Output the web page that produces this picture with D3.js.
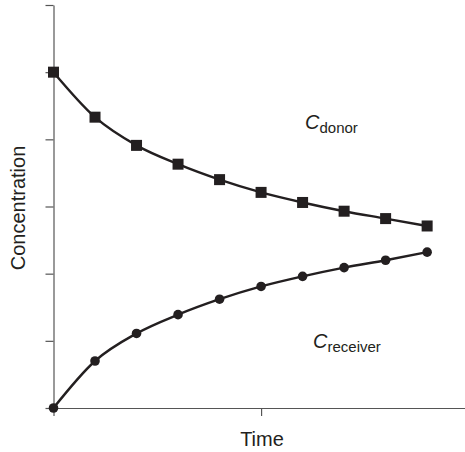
<!DOCTYPE html>
<html>
<head>
<meta charset="utf-8">
<script src="https://cdn.jsdelivr.net/npm/d3@7"></script>
<style>
  body { margin: 0; background: #fff; }
  svg { display: block; font-family: 'Liberation Sans', Arial, sans-serif; }
</style>
</head>
<body>
<svg width="465" height="452"></svg>
<script>
// Sampling times (arbitrary units)
const times = [0, 1, 2, 3, 4, 5, 6, 7, 8, 9]

// Concentrations
const donor = [5.00, 4.33, 3.91, 3.63, 3.40, 3.21, 3.06, 2.93, 2.82, 2.71]
const receiver = [0.00, 0.70, 1.11, 1.39, 1.62, 1.81, 1.96, 2.09, 2.20, 2.32]

// Tick positions (unlabelled)
const xTicks = [0, 5]
const yTicks = [0, 1, 2, 3, 4, 5, 6]

function createVisualization() {
  const ink = '#231f20'
  const axisColor = '#555'
  const left = 53.5
  const bottom = 408

  const svg = d3.select('svg')

  // Scales
  const xScale = d3.scaleLinear()
    .domain([0, 9.9])
    .range([left, 464.5])

  const yScale = d3.scaleLinear()
    .domain([0, 6])
    .range([bottom, 5])

  // Y axis, ticks only
  const yAxis = svg.append('g')
    .attr('transform', `translate(${left}, 0)`)
    .call(d3.axisLeft(yScale)
      .tickValues(yTicks)
      .tickSizeInner(8)
      .tickSizeOuter(0)
      .tickFormat(''))

  // X axis, ticks only
  const xAxis = svg.append('g')
    .attr('transform', `translate(0, ${bottom})`)
    .call(d3.axisBottom(xScale)
      .tickValues(xTicks)
      .tickSizeInner(8)
      .tickSizeOuter(0)
      .tickFormat(''))

  // Grey axis lines
  svg.selectAll('.domain, .tick line')
    .attr('stroke', axisColor)
    .attr('stroke-width', 1.2)

  // Curves
  const line = d3.line()
    .x((d, i) => xScale(times[i]))
    .y(d => yScale(d))
    .curve(d3.curveMonotoneX)

  svg.append('path')
    .datum(donor)
    .attr('fill', 'none')
    .attr('stroke', ink)
    .attr('stroke-width', 2.4)
    .attr('d', line)

  svg.append('path')
    .datum(receiver)
    .attr('fill', 'none')
    .attr('stroke', ink)
    .attr('stroke-width', 2.4)
    .attr('d', line)

  // Square markers for donor
  const sq = 11
  svg.selectAll('.donor')
    .data(donor)
    .enter()
    .append('rect')
    .attr('class', 'donor')
    .attr('x', (d, i) => xScale(times[i]) - sq / 2)
    .attr('y', d => yScale(d) - sq / 2)
    .attr('width', sq)
    .attr('height', sq)
    .attr('fill', ink)

  // Circle markers for receiver
  svg.selectAll('.receiver')
    .data(receiver)
    .enter()
    .append('circle')
    .attr('class', 'receiver')
    .attr('cx', (d, i) => xScale(times[i]))
    .attr('cy', d => yScale(d))
    .attr('r', 4.8)
    .attr('fill', ink)

  // Series labels: italic C with a subscript
  function seriesLabel(x, y, sub) {
    const t = svg.append('text')
      .attr('x', x)
      .attr('y', y)
      .attr('fill', ink)
    t.append('tspan')
      .attr('font-style', 'italic')
      .attr('font-size', 20)
      .text('C')
    t.append('tspan')
      .attr('font-size', 15)
      .attr('dy', 4)
      .text(sub)
  }
  seriesLabel(305, 129, 'donor')
  seriesLabel(313, 348, 'receiver')

  // Axis titles
  svg.append('text')
    .attr('x', 262)
    .attr('y', 446)
    .attr('text-anchor', 'middle')
    .attr('font-size', 20)
    .attr('fill', ink)
    .text('Time')

  svg.append('text')
    .attr('transform', 'translate(25, 208) rotate(-90)')
    .attr('text-anchor', 'middle')
    .attr('font-size', 20)
    .attr('fill', ink)
    .text('Concentration')
}

createVisualization()
</script>
</body>
</html>
